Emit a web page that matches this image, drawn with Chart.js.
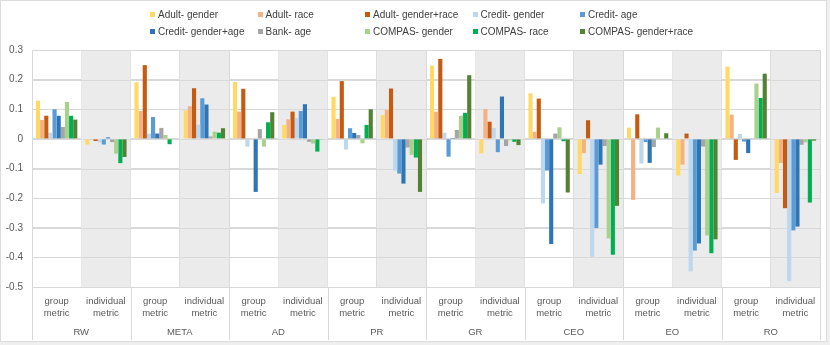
<!DOCTYPE html>
<html>
<head>
<meta charset="utf-8">
<script src="https://cdn.jsdelivr.net/npm/chart.js@4"></script>
<style>
  html, body { margin: 0; padding: 0; }
  body { width: 830px; height: 345px; background: #efefef; font-family: "Liberation Sans", Arial, sans-serif; }
  #frame { position: absolute; left: 0; top: 0; width: 825px; height: 340px; background: #fff; border: 1px solid #dcdcdc; }
  #chartWrap { position: absolute; left: 0; top: 0; width: 827px; height: 342px; }
  #legend { position: absolute; left: 150px; top: 8px; display: grid; grid-template-columns: repeat(5, 107.5px); row-gap: 5px; }
  .lg-item { display: flex; align-items: center; font-size: 10px; color: #404040; white-space: nowrap; height: 12px; }
  .lg-box { width: 5px; height: 5px; margin-right: 3px; flex: none; }
</style>
</head>
<body>
<div id="frame"></div>
<div id="chartWrap"><canvas id="chart"></canvas></div>
<div id="legend"></div>
<script>
// ===== DATA =====
const categories = [
  ["group", "metric"], ["individual", "metric"], ["group", "metric"], ["individual", "metric"],
  ["group", "metric"], ["individual", "metric"], ["group", "metric"], ["individual", "metric"],
  ["group", "metric"], ["individual", "metric"], ["group", "metric"], ["individual", "metric"],
  ["group", "metric"], ["individual", "metric"], ["group", "metric"], ["individual", "metric"]
];
const groupNames = ["RW", "META", "AD", "PR", "GR", "CEO", "EO", "RO"];
const yTicks = [0.3, 0.2, 0.1, 0, -0.1, -0.2, -0.3, -0.4, -0.5];

const seriesNames = [
  "Adult- gender", "Adult- race", "Adult- gender+race", "Credit- gender", "Credit- age",
  "Credit- gender+age", "Bank- age", "COMPAS- gender", "COMPAS- race", "COMPAS- gender+race"
];
const seriesColors = [
  "#FFD966", "#F4B183", "#C55A11", "#BDD7EE", "#5B9BD5",
  "#2E75B6", "#A5A5A5", "#A9D18E", "#00B050", "#548235"
];

// order: RW g/i, META g/i, AD g/i, PR g/i, GR g/i, CEO g/i, EO g/i, RO g/i
const adultGender      = [0.129, -0.019, 0.191, 0.096, 0.192, 0.047, 0.142, 0.081, 0.247, -0.049, 0.154, -0.119, 0.038, -0.124, 0.244, -0.182];
const adultRace        = [0.064, -0.002, 0.094, 0.110, 0.092, 0.066, 0.067, 0.098, 0.092, 0.101, 0.024, -0.048, -0.206, -0.087, 0.082, -0.081];
const adultGenderRace  = [0.078, -0.007, 0.249, 0.171, 0.169, 0.092, 0.195, 0.170, 0.270, 0.058, 0.136, 0.063, 0.083, 0.018, -0.071, -0.234];
const creditGender     = [0.021, -0.012, 0.018, 0.048, -0.026, 0.071, -0.036, -0.107, 0.021, 0.037, -0.218, -0.398, -0.083, -0.448, 0.017, -0.481];
const creditAge        = [0.100, -0.019, 0.074, 0.137, 0.000, 0.094, 0.036, -0.117, -0.060, -0.045, -0.107, -0.301, -0.011, -0.377, -0.009, -0.309];
const creditGenderAge  = [0.078, 0.005, 0.018, 0.116, -0.179, 0.117, 0.020, -0.151, 0.003, 0.143, -0.355, -0.087, -0.081, -0.353, -0.048, -0.296];
const bankAge          = [0.040, -0.011, 0.037, 0.008, 0.033, -0.010, 0.013, -0.029, 0.030, -0.024, 0.018, -0.024, -0.028, -0.026, 0.002, -0.020];
const compasGender     = [0.125, -0.050, 0.013, 0.024, -0.026, -0.016, -0.015, -0.054, 0.078, -0.005, 0.039, -0.336, 0.038, -0.326, 0.187, -0.012];
const compasRace       = [0.078, -0.082, -0.018, 0.021, 0.056, -0.043, 0.047, -0.063, 0.088, -0.010, -0.008, -0.391, 0.000, -0.386, 0.138, -0.215];
const compasGenderRace = [0.065, -0.061, 0.000, 0.036, 0.090, -0.002, 0.100, -0.179, 0.215, -0.021, -0.181, -0.226, 0.019, -0.339, 0.220, -0.006];

const seriesValues = [adultGender, adultRace, adultGenderRace, creditGender, creditAge,
  creditGenderAge, bankAge, compasGender, compasRace, compasGenderRace];

// ===== LEGEND (html) =====
document.getElementById("legend").innerHTML = seriesNames.map((name, i) => `
  <div class="lg-item"><span class="lg-box" style="background:${seriesColors[i]}"></span>${name}</div>
`).join("");

// ===== PLUGINS =====
const TEXT = "#595959";
const GRID = "#d9d9d9";

// gray background behind the "individual metric" columns
const shadePlugin = {
  id: "shade",
  beforeDatasetsDraw(chart) {
    const { ctx, chartArea, scales } = chart;
    const x = scales.x;
    const half = (x.getPixelForValue(1) - x.getPixelForValue(0)) / 2;
    ctx.save();
    ctx.fillStyle = "#ebebeb";
    for (let i = 1; i < categories.length; i += 2) {
      const c = x.getPixelForValue(i);
      ctx.fillRect(c - half, chartArea.top, half * 2, chartArea.bottom - chartArea.top);
    }
    // redraw horizontal grid over the shading
    ctx.strokeStyle = GRID;
    ctx.lineWidth = 1;
    yTicks.forEach(v => {
      const py = Math.round(scales.y.getPixelForValue(v)) + 0.5;
      ctx.beginPath();
      ctx.moveTo(chartArea.left, py);
      ctx.lineTo(chartArea.right, py);
      ctx.stroke();
    });
    ctx.restore();
  },
  afterDraw(chart) {
    // separators between the metric groups, down through the label area
    const { ctx, chartArea, scales } = chart;
    const x = scales.x;
    const half = (x.getPixelForValue(1) - x.getPixelForValue(0)) / 2;
    ctx.save();
    ctx.strokeStyle = GRID;
    ctx.lineWidth = 1;
    for (let g = 0; g <= groupNames.length; g++) {
      const px = Math.round(x.getPixelForValue(g * 2) - half) + 0.5;
      ctx.beginPath();
      ctx.moveTo(px, chartArea.bottom);
      ctx.lineTo(px, scales.x2.bottom);
      ctx.stroke();
    }
    ctx.restore();
  }
};

// ===== CHART =====
new Chart(document.getElementById("chart"), {
  type: "bar",
  data: {
    labels: categories,
    datasets: seriesNames.map((name, i) => ({
      label: name,
      data: seriesValues[i],
      backgroundColor: seriesColors[i],
      borderWidth: 0,
      categoryPercentage: 0.84,
      barPercentage: 1.0
    }))
  },
  options: {
    responsive: true,
    maintainAspectRatio: false,
    animation: false,
    layout: { padding: { top: 50, right: 7, bottom: 2, left: 0 } },
    plugins: { legend: { display: false }, tooltip: { enabled: false } },
    scales: {
      x: {
        offset: true,
        grid: { color: GRID, offset: true, drawTicks: false },
        border: { display: false },
        ticks: { color: TEXT, font: { family: "Liberation Sans", size: 9.5 }, padding: 9, maxRotation: 0, autoSkip: false },
        afterFit(s) { s.height = 35; }
      },
      x2: {
        type: "category",
        labels: groupNames,
        position: "bottom",
        offset: true,
        grid: { display: false, drawTicks: false },
        border: { display: false },
        ticks: { color: TEXT, font: { family: "Liberation Sans", size: 9.5 }, padding: 5 },
        afterFit(s) { s.height = 18; }
      },
      y: {
        min: -0.5,
        max: 0.3,
        afterBuildTicks(s) { s.ticks = yTicks.map(v => ({ value: v })); },
        grid: { color: GRID, drawTicks: false },
        border: { display: false },
        ticks: {
          color: TEXT,
          font: { family: "Liberation Sans", size: 10 },
          padding: 9,
          callback: v => String(Math.round(v * 10) / 10)
        },
        afterFit(s) { s.width = 32; }
      }
    }
  },
  plugins: [shadePlugin]
});
</script>
</body>
</html>
